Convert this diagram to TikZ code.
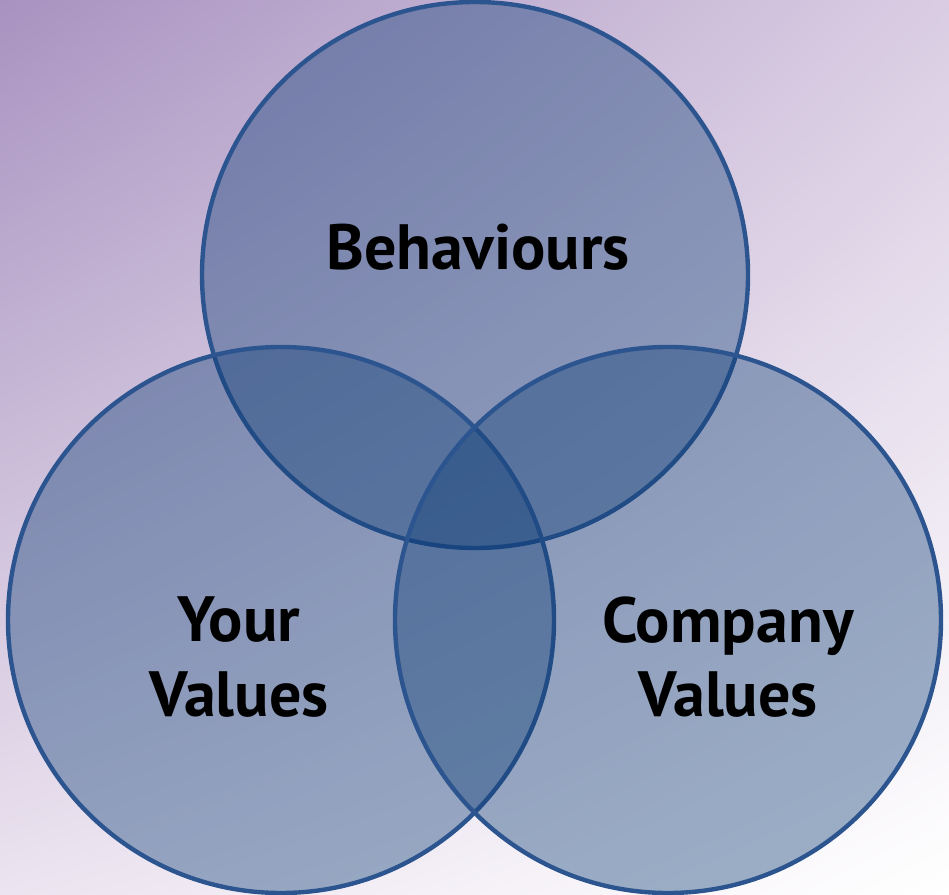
\documentclass[tikz,border=0pt]{standalone}
\usepackage{fontspec}
\setmainfont{PT Sans}
\usetikzlibrary{shadings}
\definecolor{bgtopleft}{RGB}{168,146,192}
\definecolor{bgtopright}{RGB}{218,205,227}
\definecolor{bgbotleft}{RGB}{236,228,240}
\definecolor{vennfill}{RGB}{14,62,118}
\definecolor{vennline}{RGB}{44,85,144}
\tikzset{
  vennc/.style={circle,draw=vennline,line width=3.3pt,fill=vennfill,fill opacity=0.4,minimum size=409.5pt,inner sep=0pt},
  venntext/.style={align=center,inner sep=0pt,font=\bfseries\fontsize{48}{56}\selectfont}
}
\begin{document}
\begin{tikzpicture}[x=0.75pt,y=0.75pt,yscale=-1,xscale=1]
\useasboundingbox (0,0) rectangle (949,895);

%Background
\shade [upper left=bgtopleft,upper right=bgtopright,lower left=bgbotleft,lower right=white] (0,0) rectangle (949,895);

%Circles
\node [vennc] (behav) at (475,275) {};
\node [vennc] (yourval) at (281,620) {};
\node [vennc] (compval) at (668,620) {};

% Text Node
\node [venntext] (behavtxt) at (478,247) {Behaviours};
% Text Node
\node [venntext] (yourtxt) at (239,657) {Your\\Values};
% Text Node
\node [venntext] (comptxt) at (728,657) {Company\\Values};

\end{tikzpicture}
\end{document}
